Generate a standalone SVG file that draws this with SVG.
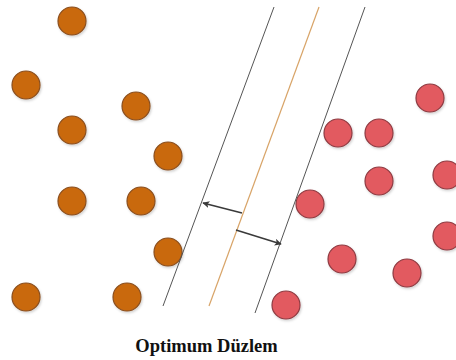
<svg xmlns="http://www.w3.org/2000/svg" width="456" height="360" viewBox="0 0 456 360">
<style>
.o{fill:#c9690f;stroke:#8a4f1f;stroke-width:1.2}
.r{fill:#e25a61;stroke:#8e3c42;stroke-width:1.2}
.ln{stroke:#555;stroke-width:1;fill:none}
.mid{stroke:#d8a468;stroke-width:1.2;fill:none}
.ar{stroke:#3a3a3a;stroke-width:1.6;fill:none;marker-end:url(#ah)}
.lbl{font-family:"Liberation Serif","Times New Roman",serif;font-weight:bold;font-size:18.5px;fill:#111}
</style>
<defs>
<marker id="ah" viewBox="0 0 10 10" refX="9" refY="5" markerWidth="7" markerHeight="7" markerUnits="userSpaceOnUse" orient="auto">
<path d="M0,0 L10,5 L0,10 L2.5,5 Z" fill="#3a3a3a"/>
</marker>
<filter id="sh" x="-30%" y="-30%" width="160%" height="160%">
<feDropShadow dx="1" dy="1.5" stdDeviation="1.2" flood-color="#000" flood-opacity="0.18"/>
</filter>
</defs>
<rect width="456" height="360" fill="#fff"/>
<g id="orange-points" filter="url(#sh)">
<circle id="o1" class="o" cx="72" cy="21" r="14"/>
<circle id="o2" class="o" cx="26" cy="85" r="14"/>
<circle id="o3" class="o" cx="136" cy="106" r="14"/>
<circle id="o4" class="o" cx="72" cy="130" r="14"/>
<circle id="o5" class="o" cx="168" cy="156" r="14"/>
<circle id="o6" class="o" cx="72" cy="201" r="14"/>
<circle id="o7" class="o" cx="141" cy="201" r="14"/>
<circle id="o8" class="o" cx="168" cy="252" r="14"/>
<circle id="o9" class="o" cx="26" cy="297" r="14"/>
<circle id="o10" class="o" cx="127" cy="297" r="14"/>
</g>
<g id="red-points" filter="url(#sh)">
<circle id="r1" class="r" cx="430" cy="98" r="14"/>
<circle id="r2" class="r" cx="338" cy="133" r="14"/>
<circle id="r3" class="r" cx="379" cy="133" r="14"/>
<circle id="r4" class="r" cx="379" cy="181" r="14"/>
<circle id="r5" class="r" cx="447" cy="175" r="14"/>
<circle id="r6" class="r" cx="310" cy="204" r="14"/>
<circle id="r7" class="r" cx="447" cy="236" r="14"/>
<circle id="r8" class="r" cx="342" cy="259" r="14"/>
<circle id="r9" class="r" cx="407" cy="273" r="14"/>
<circle id="r10" class="r" cx="286" cy="305" r="14"/>
</g>
<g id="hyperplanes">
<line class="ln" x1="274" y1="7" x2="163" y2="306"/>
<line class="mid" x1="319" y1="7" x2="209" y2="306"/>
<line class="ln" x1="365" y1="7" x2="255" y2="313"/>
</g>
<g id="connectors">
<line class="ar" x1="242" y1="213" x2="203" y2="203"/>
<line class="ar" x1="236" y1="230" x2="281" y2="244"/>
</g>
<text class="lbl" x="206.5" y="352" text-anchor="middle">Optimum Düzlem</text>
</svg>
